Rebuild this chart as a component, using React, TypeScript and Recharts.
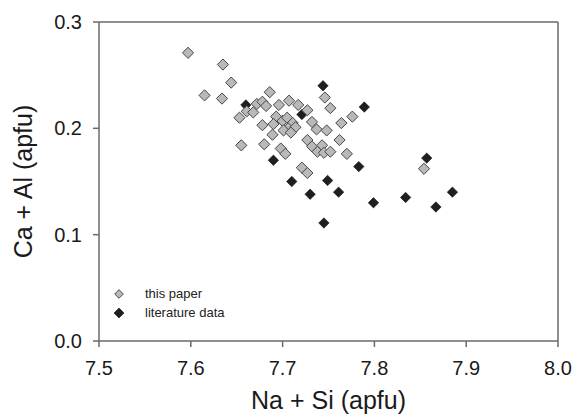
import React from "react";
import {
  ScatterChart,
  Scatter,
  XAxis,
  YAxis,
  ReferenceLine,
  Legend,
  Label,
} from "recharts";

const FONT = '"Liberation Sans", Arial, Helvetica, sans-serif';

const thisPaperX = [
  7.597, 7.635, 7.644, 7.615, 7.634, 7.686, 7.672, 7.678, 7.682, 7.661,
  7.668, 7.653, 7.696, 7.707, 7.717, 7.693, 7.678, 7.69, 7.7, 7.705,
  7.711, 7.706, 7.714, 7.701, 7.709, 7.689, 7.655, 7.68, 7.698, 7.703,
  7.727, 7.746, 7.752, 7.732, 7.737, 7.748, 7.764, 7.776, 7.727, 7.732,
  7.743, 7.738, 7.745, 7.752, 7.762, 7.77, 7.721, 7.727, 7.854,
];
const thisPaperY = [
  0.271, 0.26, 0.243, 0.231, 0.228, 0.234, 0.223, 0.225, 0.221, 0.216,
  0.215, 0.21, 0.222, 0.226, 0.222, 0.211, 0.203, 0.204, 0.207, 0.21,
  0.205, 0.2, 0.201, 0.198, 0.196, 0.194, 0.184, 0.185, 0.181, 0.176,
  0.217, 0.229, 0.219, 0.206, 0.199, 0.198, 0.205, 0.211, 0.189, 0.183,
  0.184, 0.178, 0.177, 0.178, 0.189, 0.176, 0.163, 0.158, 0.162,
];

const literatureX = [
  7.66, 7.721, 7.744, 7.789, 7.69, 7.71, 7.749, 7.73, 7.761, 7.783, 7.745,
  7.799, 7.834, 7.857, 7.885, 7.867,
];
const literatureY = [
  0.222, 0.213, 0.24, 0.22, 0.17, 0.15, 0.151, 0.138, 0.14, 0.164, 0.111,
  0.13, 0.135, 0.172, 0.14, 0.126,
];

const xTicks = [7.5, 7.6, 7.7, 7.8, 7.9, 8.0];
const yTicks = [0.0, 0.1, 0.2, 0.3];

const seriesNames = ["this paper", "literature data"];

const thisPaper = thisPaperX.map((x, i) => ({ x, y: thisPaperY[i] }));
const literature = literatureX.map((x, i) => ({ x, y: literatureY[i] }));

const GRAY_FILL = "#b9b9b9";
const GRAY_STROKE = "#474747";
const BLACK_FILL = "#1f1f1f";
const AXIS = "#6a6a6a";

const diamondPoints = (cx: number, cy: number, r: number) =>
  `${cx},${cy - r} ${cx + r},${cy} ${cx},${cy + r} ${cx - r},${cy}`;

const GrayDiamond = (props: any) => {
  const { cx, cy } = props;
  if (cx == null || cy == null) return null;
  return (
    <polygon
      points={diamondPoints(cx, cy, 5.6)}
      fill={GRAY_FILL}
      stroke={GRAY_STROKE}
      strokeWidth={1}
    />
  );
};

const BlackDiamond = (props: any) => {
  const { cx, cy } = props;
  if (cx == null || cy == null) return null;
  return (
    <polygon
      points={diamondPoints(cx, cy, 5.2)}
      fill={BLACK_FILL}
      stroke="#111"
      strokeWidth={0.6}
    />
  );
};

const LegendContent = () => (
  <div style={{ fontFamily: FONT, fontSize: 13, color: "#222", lineHeight: "19px" }}>
    {seriesNames.map((name, i) => (
      <div key={name} style={{ display: "flex", alignItems: "center", height: 19 }}>
        <svg width={14} height={14} style={{ marginRight: 19, flex: "none" }}>
          <polygon
            points={diamondPoints(7, 7, i === 0 ? 4.3 : 5)}
            fill={i === 0 ? GRAY_FILL : BLACK_FILL}
            stroke={i === 0 ? GRAY_STROKE : "#111"}
            strokeWidth={i === 0 ? 1 : 0.6}
          />
        </svg>
        <span>{name}</span>
      </div>
    ))}
  </div>
);

export default function App() {
  return (
    <div style={{ position: "absolute", left: 0, top: 0, width: 575, height: 414, background: "#fff" }}>
      <ScatterChart
        width={575}
        height={414}
        margin={{ top: 22, right: 17, bottom: 0, left: 0 }}
      >
        <XAxis
          type="number"
          dataKey="x"
          domain={[7.5, 8.0]}
          ticks={xTicks}
          tickFormatter={(v: number) => v.toFixed(1)}
          allowDataOverflow
          height={73}
          stroke={AXIS}
          strokeWidth={1.5}
          tickSize={6}
          tickMargin={14}
          tick={{ fill: "#1a1a1a", fontSize: 20, fontFamily: FONT }}
        >
          <Label
            content={(p: any) => {
              const vb = p.viewBox || {};
              return (
                <text
                  x={vb.x + vb.width / 2}
                  y={409}
                  textAnchor="middle"
                  fill="#1a1a1a"
                  fontSize={25}
                  fontFamily={FONT}
                >
                  Na + Si (apfu)
                </text>
              );
            }}
          />
        </XAxis>
        <YAxis
          type="number"
          dataKey="y"
          domain={[0, 0.3]}
          ticks={yTicks}
          tickFormatter={(v: number) => v.toFixed(1)}
          allowDataOverflow
          width={99}
          stroke={AXIS}
          strokeWidth={1.5}
          tickSize={6}
          tickMargin={11}
          tick={{ fill: "#1a1a1a", fontSize: 20, fontFamily: FONT }}
        >
          <Label
            content={(p: any) => {
              const vb = p.viewBox || {};
              const cy = vb.y + vb.height / 2;
              return (
                <text
                  x={32}
                  y={cy}
                  transform={`rotate(-90, 32, ${cy})`}
                  textAnchor="middle"
                  fill="#1a1a1a"
                  fontSize={25}
                  fontFamily={FONT}
                >
                  Ca + Al (apfu)
                </text>
              );
            }}
          />
        </YAxis>
        <ReferenceLine y={0.3} stroke={AXIS} strokeWidth={1.5} />
        <ReferenceLine x={8.0} stroke={AXIS} strokeWidth={1.5} />
        <Scatter
          name={seriesNames[1]}
          data={literature}
          shape={BlackDiamond}
          isAnimationActive={false}
        />
        <Scatter
          name={seriesNames[0]}
          data={thisPaper}
          shape={GrayDiamond}
          isAnimationActive={false}
        />
        <Legend
          layout="vertical"
          align="center"
          verticalAlign="middle"
          content={LegendContent}
          wrapperStyle={{ left: 112, top: 284, width: "auto", height: "auto" }}
        />
      </ScatterChart>
    </div>
  );
}
